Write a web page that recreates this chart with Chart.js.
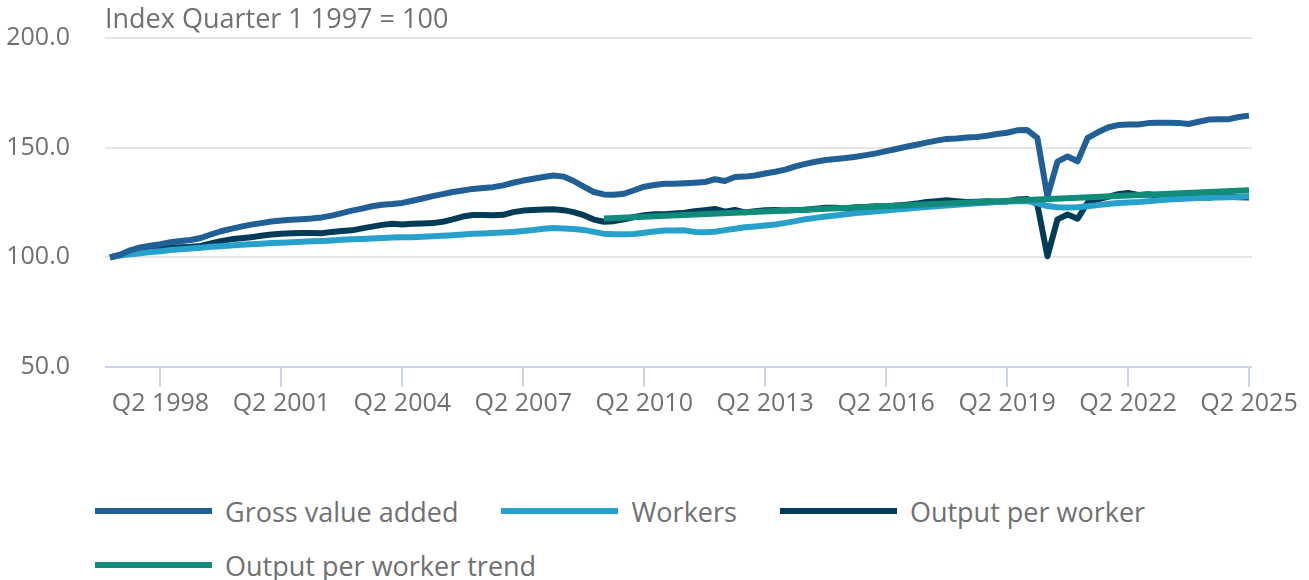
<!DOCTYPE html>
<html>
<head>
<meta charset="utf-8">
<script src="https://cdn.jsdelivr.net/npm/chart.js@4"></script>
<style>
  html, body { margin: 0; padding: 0; background: #fff; }
  #wrap { position: relative; width: 1309px; height: 580px; font-family: "Open Sans", sans-serif; }
  #chart { position: absolute; left: 0; top: 0; }
  #legend { position: absolute; left: 95px; top: 484px; width: 1210px; display: flex; flex-wrap: wrap; column-gap: 43px; }
  .item { display: flex; align-items: center; height: 54px; font-size: 27px; color: #707070; }
  .swatch { width: 117px; height: 6px; margin-right: 13px; }
</style>
</head>
<body>
<div id="wrap">
  <canvas id="chart" width="1309" height="440"></canvas>
  <div id="legend"></div>
</div>
<script>
// quarterly series, Q1 1997 .. Q2 2025
const quarters = [];
for (let y = 1997; y <= 2025; y++) {
    for (let q = 1; q <= 4; q++) {
        if (y === 2025 && q > 2) break;
        quarters.push('Q' + q + ' ' + y);
    }
}

const gvaValues = [
    100.0, 101.2, 103.2, 104.5, 105.3, 106.0, 106.9, 107.4, 107.9, 108.8,
    110.4, 111.9, 113.0, 114.0, 114.9, 115.6, 116.3, 116.8, 117.1, 117.4,
    117.7, 118.2, 119.0, 120.2, 121.3, 122.2, 123.3, 124.0, 124.3, 124.8,
    125.8, 126.8, 127.9, 128.8, 129.8, 130.5, 131.2, 131.6, 132.0, 132.8,
    134.0, 135.0, 135.8, 136.6, 137.3, 136.8, 134.8, 132.2, 129.8, 128.7,
    128.5, 129.0, 130.6, 132.2, 133.0, 133.5, 133.6, 133.8, 134.0, 134.3,
    135.6, 134.8, 136.6, 136.8, 137.3, 138.2, 139.0, 140.0, 141.5, 142.6,
    143.6, 144.4, 144.8, 145.3, 145.9, 146.6, 147.4, 148.4, 149.4, 150.4,
    151.3, 152.3, 153.2, 154.0, 154.2, 154.6, 154.9, 155.4, 156.2, 156.8,
    157.9, 158.0, 154.5, 127.7, 143.6, 146.0, 143.8, 154.5, 157.0, 159.2,
    160.3, 160.6, 160.6, 161.2, 161.4, 161.4, 161.3, 160.8, 161.8, 162.8,
    162.9, 163.0, 164.0, 164.6
];

const workersValues = [
    100.0, 100.8, 101.4, 101.9, 102.4, 102.8, 103.3, 103.7, 104.0, 104.4,
    104.8, 105.1, 105.4, 105.7, 106.0, 106.2, 106.5, 106.7, 106.9, 107.1,
    107.3, 107.5, 107.7, 108.0, 108.2, 108.4, 108.6, 108.8, 109.0, 109.1,
    109.2, 109.4, 109.6, 109.8, 110.1, 110.4, 110.7, 110.9, 111.1, 111.3,
    111.6, 112.0, 112.5, 113.0, 113.4, 113.2, 112.9, 112.5, 111.6, 110.8,
    110.5, 110.5, 110.6, 111.2, 111.8, 112.2, 112.2, 112.3, 111.6, 111.4,
    111.7, 112.4, 113.0, 113.7, 114.1, 114.5, 115.0, 115.7, 116.5, 117.4,
    118.0, 118.6, 119.1, 119.6, 120.2, 120.6, 121.0, 121.4, 121.8, 122.2,
    122.6, 123.0, 123.3, 123.6, 124.0, 124.3, 124.6, 124.9, 125.2, 125.4,
    125.6, 125.6, 124.6, 123.4, 122.8, 122.7, 122.8, 123.3, 123.8, 124.3,
    124.8, 125.0, 125.2, 125.6, 126.0, 126.4, 126.6, 126.8, 127.0, 127.2,
    127.3, 127.4, 127.5, 127.8
];

const opwValues = [
    100.0, 101.0, 102.3, 103.2, 103.8, 104.2, 104.5, 104.6, 104.8, 105.2,
    106.3, 107.4, 108.2, 108.7, 109.2, 109.8, 110.4, 110.8, 111.0, 111.1,
    111.1, 111.0, 111.6, 112.0, 112.3, 113.2, 114.0, 114.8, 115.3, 115.0,
    115.3, 115.4, 115.6, 116.2, 117.3, 118.6, 119.3, 119.3, 119.2, 119.4,
    120.6, 121.3, 121.6, 121.8, 121.9, 121.5, 120.6, 119.2, 117.2, 116.2,
    116.5, 117.3, 118.4, 119.2, 119.6, 119.7, 120.0, 120.3, 121.0, 121.5,
    122.1, 120.8, 121.6, 120.5, 121.0, 121.5, 121.6, 121.4, 121.6, 121.7,
    122.2, 122.6, 122.6, 122.3, 122.8, 123.0, 123.3, 123.2, 123.6, 124.0,
    124.5, 125.2, 125.6, 126.0, 125.6, 125.2, 125.4, 125.6, 125.3, 125.5,
    126.4, 126.6, 124.1, 100.5, 117.3, 119.5, 117.6, 125.0, 126.4, 127.6,
    128.8, 129.3, 128.4, 128.8, 128.2, 127.8, 127.5, 127.6, 127.5, 127.2,
    127.8, 127.6, 127.4, 127.3
];

// trend line: start and end of the straight segment
const trendLabels = ['Q2 2009', 'Q2 2025'];
const trendValues = [117.7, 130.6];

const yTicks = [50, 100, 150, 200];

const seriesNames = ['Gross value added', 'Workers', 'Output per worker', 'Output per worker trend'];
const seriesColors = ['#206095', '#27a0cc', '#003c57', '#118c7b'];

const textColor = '#707070';
const fontFamily = '"Open Sans", sans-serif';

// axis title above the plot, plus grid lines that run a little past the plot edges
const decorations = {
    id: 'decorations',
    beforeDatasetsDraw(chart) {
        const ctx = chart.ctx;
        const area = chart.chartArea;
        const y = chart.scales.y;
        ctx.save();
        ctx.lineWidth = 2;
        yTicks.forEach(v => {
            const py = Math.round(y.getPixelForValue(v));
            ctx.strokeStyle = v === 50 ? '#ccd6eb' : '#e6e6e6';
            ctx.beginPath();
            ctx.moveTo(area.left - 5, py);
            ctx.lineTo(area.right + 3, py);
            ctx.stroke();
        });
        ctx.restore();
    },
    afterDraw(chart) {
        const ctx = chart.ctx;
        ctx.save();
        ctx.font = '27px ' + fontFamily;
        ctx.fillStyle = textColor;
        ctx.textAlign = 'left';
        ctx.textBaseline = 'middle';
        ctx.fillText('Index Quarter 1 1997 = 100', chart.chartArea.left - 5, 20);
        ctx.restore();
    }
};

const chart = new Chart(document.getElementById('chart'), {
    type: 'line',
    data: {
        labels: quarters,
        datasets: [
            { label: seriesNames[0], data: gvaValues, borderColor: seriesColors[0], order: 1 },
            { label: seriesNames[1], data: workersValues, borderColor: seriesColors[1], order: 2 },
            { label: seriesNames[2], data: opwValues, borderColor: seriesColors[2], order: 3 },
            {
                label: seriesNames[3],
                data: trendLabels.map((l, i) => ({ x: l, y: trendValues[i] })),
                borderColor: seriesColors[3],
                order: 0
            }
        ]
    },
    options: {
        responsive: false,
        animation: false,
        layout: { padding: { top: 38, right: 60, bottom: 19, left: 0 } },
        elements: {
            line: { borderWidth: 6, tension: 0, borderCapStyle: 'butt', borderJoinStyle: 'round' },
            point: { radius: 0 }
        },
        plugins: {
            legend: { display: false },
            tooltip: { enabled: false }
        },
        scales: {
            x: {
                offset: false,
                grid: {
                    drawOnChartArea: false,
                    drawTicks: true,
                    tickLength: 20,
                    color: '#ccd6eb',
                    lineWidth: 2
                },
                border: { display: false },
                ticks: {
                    autoSkip: false,
                    maxRotation: 0,
                    padding: 2,
                    color: textColor,
                    font: { family: fontFamily, size: 25 },
                    callback: function(value, index) {
                        return (index - 5) % 12 === 0 ? this.getLabelForValue(value) : null;
                    }
                }
            },
            y: {
                min: 50,
                max: 200,
                afterBuildTicks: (scale) => { scale.ticks = yTicks.map(v => ({ value: v })); },
                afterFit: (scale) => {
                    // fixed axis width; the big label gap should not push the plot down
                    scale.width = 110;
                    scale.paddingTop = 0;
                    scale.paddingBottom = 0;
                },
                border: { display: false },
                grid: { display: false, drawTicks: false },
                ticks: {
                    padding: 40,
                    color: textColor,
                    font: { family: fontFamily, size: 25 },
                    callback: (value) => value.toFixed(1)
                }
            }
        }
    },
    plugins: [decorations]
});

// legend laid out like the source: left aligned, wrapping rows
const legendEl = document.getElementById('legend');
chart.data.datasets.forEach(ds => {
    const item = document.createElement('div');
    item.className = 'item';
    const sw = document.createElement('span');
    sw.className = 'swatch';
    sw.style.background = ds.borderColor;
    item.appendChild(sw);
    item.appendChild(document.createTextNode(ds.label));
    legendEl.appendChild(item);
});
</script>
</body>
</html>
